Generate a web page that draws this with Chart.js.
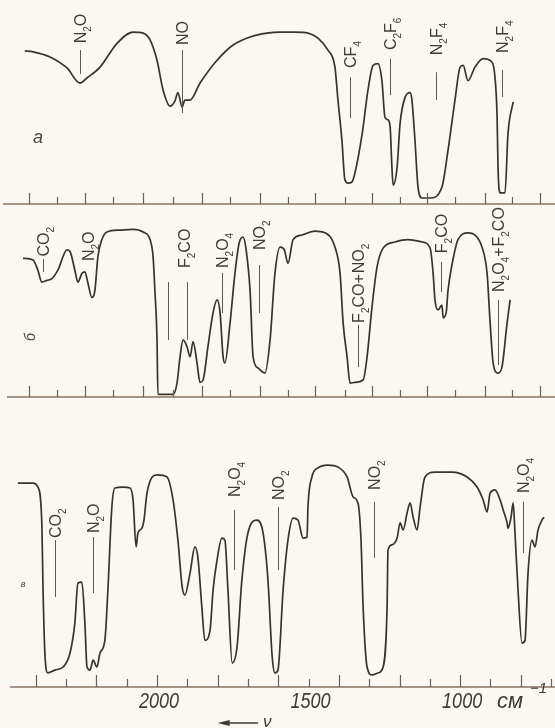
<!DOCTYPE html>
<html>
<head>
<meta charset="utf-8">
<script src="https://cdn.jsdelivr.net/npm/chart.js@4.4.0/dist/chart.umd.min.js"></script>
<style>
  html, body { margin: 0; padding: 0; background: #f9f8f3; }
  #wrap { position: relative; width: 555px; height: 728px; overflow: hidden; }
  canvas { position: absolute; left: 0; }
</style>
</head>
<body>
<div id="wrap">
  <canvas id="panelA" width="555" height="205" style="top:0"></canvas>
  <canvas id="panelB" width="555" height="193" style="top:205px"></canvas>
  <canvas id="panelC" width="555" height="288" style="top:440px"></canvas>
</div>
<script>
// wavenumbers (cm-1) and transmission (%)
const waveA = [2436, 2409, 2353, 2297, 2254, 2231, 2188, 2132, 2079, 2046, 2023, 2000, 1980, 1957, 1941, 1931, 1917, 1908, 1891, 1858,
  1802, 1749, 1693, 1637, 1594, 1545, 1502, 1469, 1436, 1413, 1403, 1390, 1380, 1370, 1357, 1347, 1323, 1304, 1287, 1271,
  1258, 1248, 1238, 1231, 1225, 1221, 1208, 1198, 1182, 1165, 1159, 1149, 1139, 1126, 1099, 1060, 1040, 1017, 1000, 990,
  974, 951, 924, 895, 885, 878, 875, 868, 852, 842, 825];
const transA = [86.5, 86, 83, 76.5, 67.6, 70.6, 77, 91, 97.6, 97, 93, 81, 63.5, 54, 57, 62, 53.5, 57.6, 57.6, 67.6,
  81, 90, 94.7, 97, 97.6, 97.6, 97, 94, 87, 77, 57.6, 34, 10.6, 8.8, 9.4, 14.7, 38, 63.5, 78, 79,
  69, 47.6, 46, 42, 18, 7.6, 18, 44, 59, 62, 57.6, 34, 6.5, 0, 0, 6.5, 28, 57.6, 77, 78,
  69, 77, 82, 80, 71, 47.6, 18, 3, 3, 38, 56.5];

const waveB = [2442, 2409, 2393, 2380, 2363, 2347, 2327, 2297, 2287, 2271, 2261, 2248, 2238, 2228, 2215, 2205, 2195, 2182, 2165, 2122,
  2079, 2046, 2023, 2013, 2007, 2000, 1997, 1947, 1934, 1924, 1914, 1901, 1891, 1881, 1868, 1858, 1848, 1832, 1815, 1802,
  1792, 1782, 1776, 1759, 1743, 1729, 1716, 1706, 1693, 1683, 1667, 1644, 1627, 1611, 1594, 1580, 1568, 1551, 1522, 1479,
  1446, 1413, 1396, 1386, 1373, 1363, 1347, 1320, 1307, 1291, 1274, 1254, 1215, 1172, 1126, 1099, 1089, 1083, 1073, 1060,
  1056, 1046, 1040, 1026, 1007, 974, 951, 928, 911, 901, 891, 875, 862, 845, 835];
const transB = [81, 80, 74, 67, 68, 69, 74, 86, 85, 74, 67, 72, 73, 66.5, 58, 62, 82, 92, 96.5, 97.6,
  98, 96.5, 92, 82, 62, 33, 1, 1, 7.6, 23, 33, 29, 23, 32, 19.4, 8, 9.4, 29, 49, 56.5,
  49, 23, 19.4, 43, 72, 90, 93.5, 86, 62, 23, 16.5, 13.5, 33, 72, 87.6, 86, 78, 92, 94.7, 97,
  96, 87.6, 72, 43, 23, 7.6, 8, 9.4, 23, 52, 76, 87, 90.6, 92, 90.6, 87, 72, 56.5, 50.6, 53.5,
  46, 49, 62, 78, 92, 96, 94.7, 87.6, 72, 43, 19.4, 13.5, 17, 43, 56.5];

const waveC = [2459, 2409, 2393, 2380, 2376, 2370, 2360, 2337, 2310, 2287, 2271, 2261, 2248, 2238, 2231, 2221, 2211, 2198, 2188, 2172,
  2162, 2149, 2139, 2112, 2089, 2079, 2069, 2063, 2050, 2043, 2033, 2000, 1967, 1947, 1931, 1917, 1908, 1891, 1875, 1865,
  1852, 1842, 1825, 1815, 1802, 1786, 1776, 1766, 1752, 1736, 1720, 1700, 1670, 1650, 1634, 1620, 1611, 1601, 1584, 1568,
  1551, 1535, 1518, 1505, 1502, 1489, 1469, 1436, 1403, 1373, 1353, 1337, 1327, 1320, 1307, 1290, 1271, 1254, 1241, 1238,
  1225, 1208, 1198, 1188, 1175, 1165, 1155, 1142, 1132, 1116, 1083, 1027, 977, 944, 924, 911, 901, 885, 868, 858,
  845, 842, 832, 825, 819, 809, 796, 786, 776, 763, 753, 743, 730, 723];
const transC = [89.5, 89.5, 87.7, 71.4, 41, 12.3, 3.2, 4.5, 5.9, 12.3, 26, 44, 44.5, 26, 5.9, 4.5, 9, 5.9, 12.3, 18,
  41, 78.6, 87.3, 87.7, 87.3, 81.8, 60.5, 66.8, 69, 72.7, 85, 93.2, 92.3, 81.8, 63.6, 42.3, 38.6, 48.6, 60.5, 55.5,
  33, 18, 22.7, 41, 54.5, 64.5, 63.6, 41, 7.7, 15, 45.5, 66.8, 72.7, 66.8, 45.5, 10.5, 3.2, 4.5, 41, 63.6,
  73.6, 72.7, 64.5, 65, 78.6, 92.3, 96.4, 97.7, 96.8, 92.3, 83.2, 80.5, 63.6, 33, 5.9, 2.3, 3.2, 5.9, 33, 59,
  61.4, 64.5, 71.4, 68.2, 75.9, 80.5, 74, 68.2, 78.6, 92.3, 94.5, 94.5, 92.3, 87.7, 81.8, 76.4, 85, 86.4, 81.8, 77.3,
  71.4, 69, 74, 80.5, 66.8, 41, 16.8, 18, 48.6, 63.6, 60.5, 68.2, 72.7, 74];

// chart-paper tick marks (upper two strips are shifted against the lower one)
const ticksUpper = [2422, 2330, 2238, 2145, 2046, 1947, 1852, 1759, 1660, 1568, 1479, 1380, 1290, 1198, 1109, 1017, 918, 828, 736];
const ticksLower = [2400, 2300, 2200, 2100, 2000, 1900, 1800, 1700, 1600, 1500, 1400, 1300, 1200, 1100, 1000, 900, 800, 700];
const tickLabels = [2000, 1500, 1000];

// band assignments: '_' makes the next character a subscript
const bandsA = [
  { text: 'N_2O', nu: 2254, at: 91, line: [87, 73] },
  { text: 'NO', nu: 1917, at: 90, line: [87, 50] },
  { text: 'CF_4', nu: 1363, at: 76.5, line: [71, 47] },
  { text: 'C_2F_6', nu: 1231, at: 87, line: [82, 60.5] },
  { text: 'N_2F_4', nu: 1079, at: 84, line: [74, 57.6] },
  { text: 'N_2F_4', nu: 862, at: 85.3, line: [75.3, 59.4] }
];
const bandsB = [
  { text: 'CO_2', nu: 2376, at: 82, line: [80.5, 72.9] },
  { text: 'N_2O', nu: 2228, at: 79.4 },
  { text: 'F_2CO', nu: 1911, at: 75.3 },
  { text: '', nu: 1964, line: [67, 33] },
  { text: '', nu: 1901, line: [67, 33] },
  { text: 'N_2O_4', nu: 1785, at: 75.3, line: [72.4, 48.8] },
  { text: 'NO_2', nu: 1663, at: 85.9, line: [77, 48.8] },
  { text: 'F_2CO+NO_2', nu: 1337, at: 43, line: [41.8, 17] },
  { text: 'F_2CO', nu: 1063, at: 84, line: [78.8, 61.2] },
  { text: 'N_2O_4+F_2CO', nu: 875, at: 61.2, line: [56.5, 18.2] }
];
const bandsC = [
  { text: 'CO_2', nu: 2337, at: 64.5, line: [63.6, 37.7] },
  { text: 'N_2O', nu: 2211, at: 66.8, line: [65, 39.5] },
  { text: 'N_2O_4', nu: 1746, at: 83.2, line: [77.3, 50] },
  { text: 'NO_2', nu: 1601, at: 81.8, line: [78.6, 50] },
  { text: 'NO_2', nu: 1284, at: 86.4, line: [81, 55.5] },
  { text: 'N_2O_4', nu: 792, at: 85, line: [81, 57.7] }
];

const INK = '#38332f';
const FONT = '"Liberation Sans", "DejaVu Sans", sans-serif';

function drawFormula(ctx, text, x, y, size) {
  ctx.save();
  ctx.translate(x, y);
  ctx.rotate(-Math.PI / 2);
  let cx = 0;
  for (let i = 0; i < text.length; i++) {
    let ch = text[i], sub = false;
    if (ch === '_') { ch = text[++i]; sub = true; }
    ctx.font = (sub ? Math.round(size * 0.65) : size) + 'px ' + FONT;
    ctx.fillText(ch, cx, size * 0.36 + (sub ? size * 0.28 : 0));
    cx += ctx.measureText(ch).width + (ch === '+' ? 1 : 0);
  }
  ctx.restore();
}

const stripDecor = {
  id: 'stripDecor',
  afterDatasetsDraw(chart, args, opts) {
    const { ctx, chartArea: a, scales: { x, y } } = chart;
    const yb = a.bottom - 1;
    ctx.save();
    ctx.strokeStyle = '#877565';
    ctx.lineWidth = 1.5;
    ctx.beginPath();
    ctx.moveTo(x.getPixelForValue(opts.lineFrom), yb);
    ctx.lineTo(a.right, yb);
    ctx.stroke();

    ctx.strokeStyle = '#6c6159';
    ctx.lineWidth = 1.2;
    opts.ticks.forEach((v, i) => {
      const px = Math.round(x.getPixelForValue(v)) + 0.5;
      ctx.beginPath();
      ctx.moveTo(px, yb);
      ctx.lineTo(px, yb - (i % 2 ? opts.tickLen[1] : opts.tickLen[0]));
      ctx.stroke();
    });

    ctx.fillStyle = '#3e3b38';
    ctx.strokeStyle = '#5c5955';
    ctx.lineWidth = 1;
    opts.bands.forEach(b => {
      const px = Math.round(x.getPixelForValue(b.nu)) + 0.5;
      if (b.line) {
        ctx.beginPath();
        ctx.moveTo(px, y.getPixelForValue(b.line[0]));
        ctx.lineTo(px, y.getPixelForValue(b.line[1]));
        ctx.stroke();
      }
      if (b.text) drawFormula(ctx, b.text, px, y.getPixelForValue(b.at), 16);
    });

    const L = opts.letter;
    ctx.save();
    ctx.translate(x.getPixelForValue(L.nu), y.getPixelForValue(L.at));
    ctx.rotate(L.rot);
    ctx.font = 'italic ' + L.size + 'px ' + FONT;
    ctx.fillStyle = '#4a4642';
    ctx.textAlign = 'center';
    ctx.textBaseline = 'middle';
    ctx.fillText(L.text, 0, 0);
    ctx.restore();
    ctx.restore();
  }
};

const axisText = {
  id: 'axisText',
  afterDraw(chart, args, opts) {
    if (!opts.show) return;
    const { ctx, chartArea: a, scales: { x } } = chart;
    ctx.save();
    ctx.fillStyle = '#3f3a36';
    ctx.textAlign = 'center';
    tickLabels.forEach(v => {
      ctx.save();
      ctx.translate(x.getPixelForValue(v) + 2, a.bottom + 20);
      ctx.scale(0.82, 1);
      ctx.font = 'italic 22px ' + FONT;
      ctx.fillText(String(v), 0, 0);
      ctx.restore();
    });
    ctx.textAlign = 'left';
    ctx.font = 'italic 22px ' + FONT;
    ctx.fillText('см', a.right - 58, a.bottom + 20);
    ctx.font = 'italic 15px ' + FONT;
    ctx.fillText('−1', a.right - 25, a.bottom + 5);
    // direction arrow
    const ax0 = x.getPixelForValue(1800), ax1 = x.getPixelForValue(1667), ay = a.bottom + 35;
    ctx.strokeStyle = '#3f3a36';
    ctx.lineWidth = 1.5;
    ctx.beginPath();
    ctx.moveTo(ax0 + 8, ay);
    ctx.lineTo(ax1, ay);
    ctx.stroke();
    ctx.beginPath();
    ctx.moveTo(ax0, ay);
    ctx.lineTo(ax0 + 12, ay - 3);
    ctx.lineTo(ax0 + 12, ay + 3);
    ctx.closePath();
    ctx.fill();
    ctx.font = 'italic 17px ' + FONT;
    ctx.fillText('ν', ax1 + 5, ay + 4);
    ctx.restore();
  }
};

function makeStrip(id, wave, trans, yMin, yMax, padBottom, decor, showAxis) {
  return new Chart(document.getElementById(id), {
    type: 'line',
    data: {
      datasets: [{
        data: wave.map((w, i) => ({ x: w, y: trans[i] })),
        borderColor: INK,
        borderWidth: 1.7,
        pointRadius: 0,
        cubicInterpolationMode: 'monotone',
        fill: false
      }]
    },
    options: {
      responsive: false,
      animation: false,
      devicePixelRatio: 1,
      layout: { padding: { left: 0, right: 0, top: 0, bottom: padBottom } },
      scales: {
        x: { type: 'linear', reverse: true, min: 687, max: 2518, display: false },
        y: { min: yMin, max: yMax, display: false }
      },
      plugins: {
        legend: { display: false },
        tooltip: { enabled: false },
        stripDecor: decor,
        axisText: { show: showAxis }
      }
    },
    plugins: [stripDecor, axisText]
  });
}

makeStrip('panelA', waveA, transA, -4.12, 116.47, 0,
  { lineFrom: 2508, ticks: ticksUpper, tickLen: [11, 7], bands: bandsA,
    letter: { text: 'а', nu: 2393, at: 35, rot: 0, size: 18 } }, false);
makeStrip('panelB', waveB, transB, -1.18, 112.35, 0,
  { lineFrom: 2495, ticks: ticksUpper, tickLen: [11, 7], bands: bandsB,
    letter: { text: 'б', nu: 2416, at: 34.7, rot: -Math.PI / 2, size: 14 } }, false);
makeStrip('panelC', waveC, transC, -3.64, 109.09, 40,
  { lineFrom: 2485, ticks: ticksLower, tickLen: [12, 8], bands: bandsC,
    letter: { text: 'в', nu: 2442, at: 43.6, rot: 0, size: 9 } }, true);
</script>
</body>
</html>
